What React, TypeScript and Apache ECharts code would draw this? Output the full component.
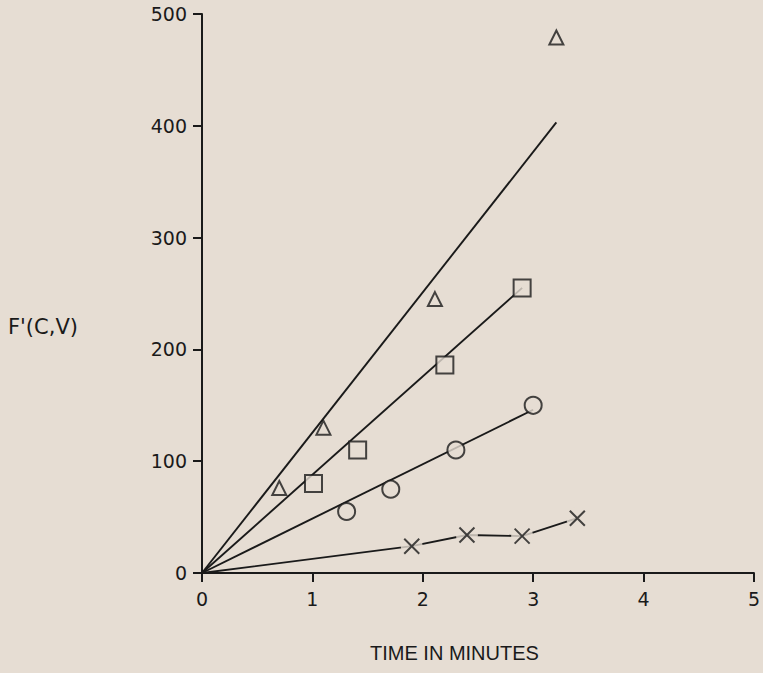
import React, { useEffect, useRef } from "react";
import * as echarts from "echarts";

const xTicks = [0, 1, 2, 3, 4, 5];
const yTicks = [0, 100, 200, 300, 400, 500];

const triangleX = [0.7, 1.1, 2.11, 3.21];
const triangleY = [76, 130, 245, 479];
const squareX = [1.01, 1.41, 2.2, 2.9];
const squareY = [80, 110, 186, 255];
const circleX = [1.31, 1.71, 2.3, 3.0];
const circleY = [55, 75, 110, 150];
const crossX = [1.9, 2.4, 2.9, 3.4];
const crossY = [24, 34, 33, 49];

const triangleFit = [[0, 0], [3.21, 403]];
const squareFit = [[0, 0], [2.9, 255]];
const circleFit = [[0, 0], [3.0, 146]];
const crossFit = [[0, 0], [1.9, 24], [2.4, 34], [2.9, 33], [3.4, 49]];

const BG = "#e6ddd3";
const INK = "#1a1a1a";
const FONT = "Liberation Sans, DejaVu Sans, sans-serif";
const TICKFONT = "DejaVu Sans, Liberation Sans, sans-serif";

const pairs = (xs: number[], ys: number[]) => xs.map((x, i) => [x, ys[i]]);

export default function App() {
  const ref = useRef<HTMLDivElement>(null);
  useEffect(() => {
    document.body.style.margin = "0";
    document.body.style.background = BG;
    const chart = echarts.init(ref.current!, null, { renderer: "svg" });
    const lineSeries = (data: number[][]) => ({
      type: "line",
      data,
      symbol: "none",
      lineStyle: { color: INK, width: 1.9 },
      z: 2,
    });
    const marker = (data: number[][], symbol: string, size: number) => ({
      type: "scatter",
      data,
      symbol,
      symbolSize: size,
      itemStyle: { color: BG, borderColor: INK, borderWidth: 2 },
      z: 5,
    });
    chart.setOption({
      animation: false,
      backgroundColor: BG,
      grid: { left: 202, right: 5, top: 14, bottom: 100, containLabel: false },
      xAxis: {
        type: "value",
        min: 0,
        max: 5,
        interval: 1,
        axisLine: { show: true, lineStyle: { color: INK, width: 2 } },
        axisTick: { show: true, length: 9, lineStyle: { color: INK, width: 2 } },
        axisLabel: {
          margin: 16,
          fontSize: 19,
          color: INK,
          fontFamily: TICKFONT,
          formatter: (v: number) => (xTicks.includes(v) ? String(v) : ""),
        },
        splitLine: { show: false },
      },
      yAxis: {
        type: "value",
        min: 0,
        max: 500,
        interval: 100,
        axisLine: { show: true, lineStyle: { color: INK, width: 2 } },
        axisTick: { show: true, length: 9, lineStyle: { color: INK, width: 2 } },
        axisLabel: {
          margin: 15,
          fontSize: 19,
          color: INK,
          fontFamily: TICKFONT,
          formatter: (v: number) => (yTicks.includes(v) ? String(v) : ""),
        },
        splitLine: { show: false },
      },
      graphic: [
        {
          type: "text",
          left: 8,
          top: 316,
          style: { text: "F'(C,V)", fontSize: 21, fill: INK, fontFamily: TICKFONT },
        },
        {
          type: "text",
          left: 370,
          top: 643,
          style: { text: "TIME IN MINUTES", fontSize: 20, fill: INK, fontFamily: FONT },
        },
      ],
      series: [
        lineSeries(triangleFit),
        lineSeries(squareFit),
        lineSeries(circleFit),
        lineSeries(crossFit),
        marker(pairs(triangleX, triangleY), "triangle", 14),
        marker(pairs(squareX, squareY), "rect", 17),
        marker(pairs(circleX, circleY), "circle", 17),
        {
          type: "scatter",
          data: pairs(crossX, crossY),
          symbol: "circle",
          symbolSize: 22,
          itemStyle: { color: BG },
          z: 4,
        },
        {
          type: "scatter",
          data: pairs(crossX, crossY),
          symbol: "path://M0,0 L10,10 M10,0 L0,10",
          symbolSize: 15,
          itemStyle: { color: "none", borderColor: INK, borderWidth: 2 },
          z: 5,
        },
      ],
    });
    return () => chart.dispose();
  }, []);
  return <div ref={ref} style={{ width: 763, height: 673 }} />;
}
